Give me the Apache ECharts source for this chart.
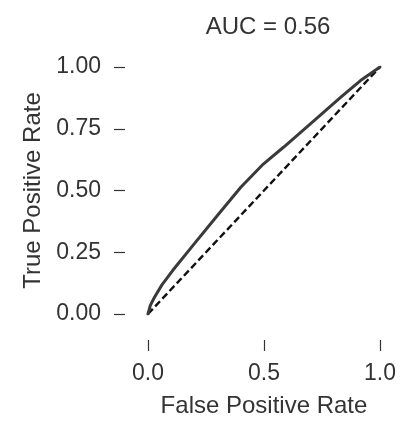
<!DOCTYPE html>
<html>
<head>
<meta charset="utf-8">
<script src="https://cdn.jsdelivr.net/npm/echarts@6/dist/echarts.min.js"></script>
<style>
  html, body { margin: 0; padding: 0; background: #fff; }
  #chart { width: 402px; height: 426px; }
</style>
</head>
<body>
<div id="chart"></div>
<script>
// ROC curve points: false positive rate / true positive rate
const fpr = [0.000, 0.010, 0.028, 0.060, 0.107, 0.200, 0.300, 0.400, 0.497, 0.584, 0.700, 0.830, 0.916, 1.000];
const tpr = [0.000, 0.035, 0.068, 0.118, 0.177, 0.285, 0.400, 0.513, 0.607, 0.675, 0.770, 0.877, 0.945, 1.000];
// chance diagonal
const chanceX = [0, 1];
const chanceY = [0, 1];
const aucValue = 0.56;
const xTicks = [0.0, 0.5, 1.0];
const yTicks = [0.00, 0.25, 0.50, 0.75, 1.00];

const FONT = "'Liberation Sans', Arial, sans-serif";
const TEXT = '#333333';

const chart = echarts.init(document.getElementById('chart'), null, { renderer: 'canvas' });

chart.setOption({
  animation: false,
  backgroundColor: '#ffffff',
  title: {
    text: 'AUC = ' + aucValue.toFixed(2),
    left: 263,
    top: 10,
    textAlign: 'center',
    textStyle: { fontFamily: FONT, fontSize: 24, fontWeight: 'normal', color: TEXT }
  },
  grid: { left: 148, right: 22, top: 67, bottom: 112, containLabel: false },
  xAxis: {
    type: 'value',
    min: 0, max: 1, interval: 0.5,
    offset: 26,
    name: 'False Positive Rate',
    nameLocation: 'middle',
    nameGap: 54,
    nameTextStyle: { fontFamily: FONT, fontSize: 24, color: TEXT },
    axisLine: { show: false, onZero: false },
    axisTick: { show: true, length: 11, lineStyle: { color: '#333333', width: 1.2 } },
    axisLabel: {
      margin: 22, fontFamily: FONT, fontSize: 23, color: TEXT,
      formatter: v => (xTicks.some(t => Math.abs(t - v) < 1e-9) ? v.toFixed(1) : '')
    },
    splitLine: { show: false }
  },
  yAxis: {
    type: 'value',
    min: 0, max: 1, interval: 0.25,
    offset: 23,
    name: 'True Positive Rate',
    nameLocation: 'middle',
    nameGap: 73,
    nameRotate: 90,
    nameTextStyle: { fontFamily: FONT, fontSize: 24, color: TEXT },
    axisLine: { show: false, onZero: false },
    axisTick: { show: true, length: 11, lineStyle: { color: '#333333', width: 1.2 } },
    axisLabel: {
      margin: 24, fontFamily: FONT, fontSize: 23, color: TEXT,
      formatter: v => (yTicks.some(t => Math.abs(t - v) < 1e-9) ? v.toFixed(2) : '')
    },
    splitLine: { show: false }
  },
  series: [
    {
      type: 'line',
      name: 'chance',
      data: chanceX.map((x, i) => [x, chanceY[i]]),
      showSymbol: false,
      lineStyle: { color: '#111111', width: 2.4, type: [7, 3.5] },
      z: 2
    },
    {
      type: 'line',
      name: 'roc',
      data: fpr.map((x, i) => [x, tpr[i]]),
      showSymbol: false,
      lineStyle: { color: '#3a3a3a', width: 3, join: 'round', cap: 'round' },
      z: 3
    }
  ]
});
</script>
</body>
</html>
